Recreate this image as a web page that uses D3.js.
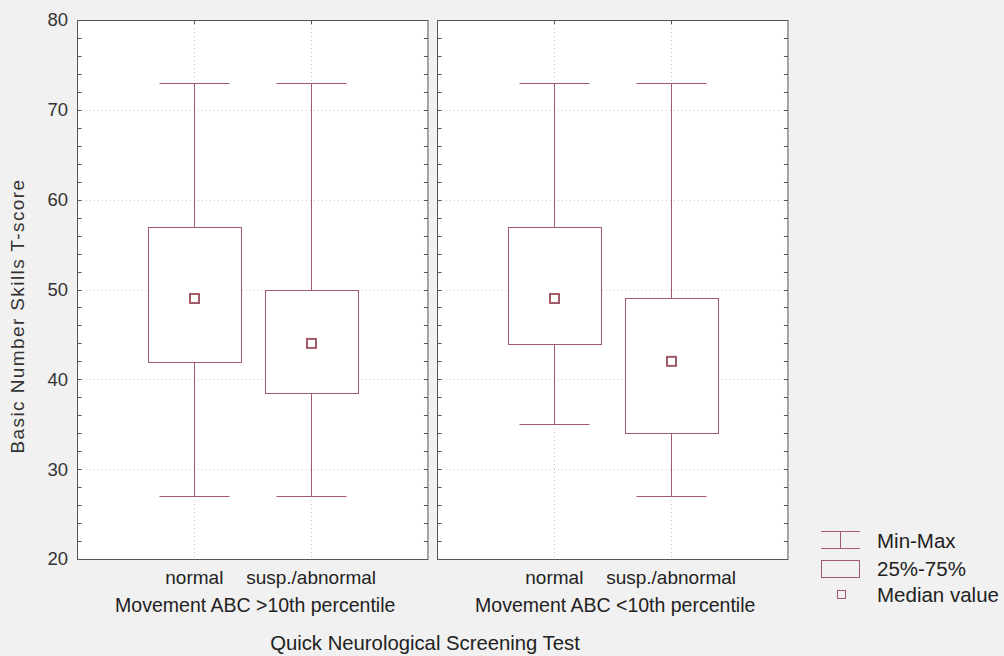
<!DOCTYPE html>
<html>
<head>
<meta charset="utf-8">
<script src="https://cdn.jsdelivr.net/npm/d3@7"></script>
<style>
    body { margin: 0; background: #f1f1f1; }
    svg { display: block; font-family: "Liberation Sans", Arial, sans-serif; }
</style>
</head>
<body>
<div id="chart"></div>
<script>
// values, one entry per panel, then per category
var groups = ["Movement ABC >10th percentile", "Movement ABC <10th percentile"];
var categories = ["normal", "susp./abnormal"];
var minValues = [[27, 27], [35, 27]];
var q1Values = [[42, 38.5], [44, 34]];
var medianValues = [[49, 44], [49, 42]];
var q3Values = [[57, 50], [57, 49]];
var maxValues = [[73, 73], [73, 73]];
var yTicks = [20, 30, 40, 50, 60, 70, 80];
var legendLabels = ["Min-Max", "25%-75%", "Median value"];

var width = 1004, height = 656;
var boxColor = "#a05a68";
var frameColor = "#555";

var svg = d3.select("#chart").append("svg")
    .attr("width", width)
    .attr("height", height);

var y = d3.scaleLinear().domain([20, 80]).range([559, 20]);

// panel positions
var panelX = d3.scaleBand()
    .domain(groups)
    .range([77, 787])
    .paddingInner(0.0254);

var x = d3.scalePoint()
    .domain(categories)
    .range([0, panelX.bandwidth()])
    .padding(1);

var boxWidth = 93, capWidth = 70;

groups.forEach(function(g, gi) {
    var panel = svg.append("g")
        .attr("transform", "translate(" + Math.round(panelX(g)) + ",0)");
    var pw = panelX.bandwidth();

    panel.append("rect")
        .attr("x", 0.5).attr("y", y(80) + 0.5)
        .attr("width", pw).attr("height", y(20) - y(80))
        .attr("fill", "#fff");

    // dotted grid
    panel.selectAll(".hgrid")
        .data(yTicks.slice(1, -1))
        .enter().append("line")
        .attr("x1", 1).attr("x2", pw)
        .attr("y1", function(d) { return Math.round(y(d)) + 0.5; })
        .attr("y2", function(d) { return Math.round(y(d)) + 0.5; })
        .attr("stroke", "#c8c8c8")
        .attr("stroke-dasharray", "1,3");
    panel.selectAll(".vgrid")
        .data(categories)
        .enter().append("line")
        .attr("x1", function(d) { return Math.round(x(d)) + 0.5; })
        .attr("x2", function(d) { return Math.round(x(d)) + 0.5; })
        .attr("y1", y(80)).attr("y2", y(20))
        .attr("stroke", "#c8c8c8")
        .attr("stroke-dasharray", "1,3");

    // minor ticks on both sides, every 2 units
    var minor = d3.range(22, 80, 2);
    [0, pw].forEach(function(side, si) {
        panel.selectAll(".mt" + si)
            .data(minor)
            .enter().append("line")
            .attr("x1", side + 0.5)
            .attr("x2", side + 0.5 + (si === 0 ? 4 : -4))
            .attr("y1", function(d) { return Math.round(y(d)) + 0.5; })
            .attr("y2", function(d) { return Math.round(y(d)) + 0.5; })
            .attr("stroke", frameColor);
    });
    panel.selectAll(".tt")
        .data(categories)
        .enter().append("line")
        .attr("x1", function(d) { return Math.round(x(d)) + 0.5; })
        .attr("x2", function(d) { return Math.round(x(d)) + 0.5; })
        .attr("y1", y(80)).attr("y2", y(80) + 4)
        .attr("stroke", frameColor);

    // boxes
    categories.forEach(function(c, ci) {
        var cx = Math.round(x(c)) + 0.5;
        var b = panel.append("g").attr("stroke", boxColor).attr("fill", "none");
        b.append("line")
            .attr("x1", cx).attr("x2", cx)
            .attr("y1", Math.round(y(maxValues[gi][ci])) + 0.5)
            .attr("y2", Math.round(y(minValues[gi][ci])) + 0.5);
        [minValues[gi][ci], maxValues[gi][ci]].forEach(function(v) {
            b.append("line")
                .attr("x1", cx - capWidth / 2).attr("x2", cx + capWidth / 2)
                .attr("y1", Math.round(y(v)) + 0.5)
                .attr("y2", Math.round(y(v)) + 0.5);
        });
        b.append("rect")
            .attr("x", Math.round(cx - boxWidth / 2) + 0.5)
            .attr("y", Math.round(y(q3Values[gi][ci])) + 0.5)
            .attr("width", boxWidth)
            .attr("height", Math.round(y(q1Values[gi][ci]) - y(q3Values[gi][ci])))
            .attr("fill", "#fff");
        b.append("rect")
            .attr("x", cx - 4.5)
            .attr("y", y(medianValues[gi][ci]) - 4.5)
            .attr("width", 9).attr("height", 9)
            .attr("stroke-width", 2)
            .attr("fill", "#fff");
    });

    // frame
    panel.append("rect")
        .attr("x", 0.5).attr("y", y(80) + 0.5)
        .attr("width", pw).attr("height", y(20) - y(80))
        .attr("fill", "none")
        .attr("stroke", frameColor);

    var xAxis = d3.axisBottom(x).tickSize(0).tickPadding(12);
    var ax = panel.append("g")
        .attr("transform", "translate(0," + y(20) + ")")
        .call(xAxis);
    ax.select(".domain").remove();
    ax.selectAll("text")
        .attr("font-size", 19)
        .attr("font-family", "Liberation Sans, Arial, sans-serif")
        .attr("fill", "#222");

    panel.append("text")
        .attr("x", pw / 2 + 3).attr("y", 612)
        .attr("text-anchor", "middle")
        .attr("font-size", 19.5)
        .attr("fill", "#222")
        .text(g);
});

// y axis labels
var yAxis = d3.axisLeft(y).tickValues(yTicks).tickSize(0).tickPadding(9);
var yg = svg.append("g")
    .attr("transform", "translate(77,0)")
    .call(yAxis);
yg.select(".domain").remove();
yg.selectAll("text")
    .attr("font-size", 18.5)
    .attr("font-family", "Liberation Sans, Arial, sans-serif")
    .attr("fill", "#333");

svg.append("text")
    .attr("transform", "translate(24,316) rotate(-90)")
    .attr("text-anchor", "middle")
    .attr("font-size", 19)
    .attr("letter-spacing", 1.4)
    .attr("fill", "#333")
    .text("Basic Number Skills T-score");

svg.append("text")
    .attr("x", 425).attr("y", 650)
    .attr("text-anchor", "middle")
    .attr("font-size", 20.3)
    .attr("fill", "#222")
    .text("Quick Neurological Screening Test");

// legend
var legend = svg.append("g").attr("transform", "translate(821,0)");
var rowY = [541, 569, 595];
var lg = legend.append("g").attr("stroke", boxColor).attr("fill", "none");
lg.append("line").attr("x1", 0).attr("x2", 39).attr("y1", 531.5).attr("y2", 531.5);
lg.append("line").attr("x1", 0).attr("x2", 39).attr("y1", 548.5).attr("y2", 548.5);
lg.append("line").attr("x1", 19.5).attr("x2", 19.5).attr("y1", 531.5).attr("y2", 548.5);
lg.append("rect").attr("x", 0.5).attr("y", 560.5).attr("width", 38).attr("height", 17);
lg.append("rect").attr("x", 16.5).attr("y", 590.5).attr("width", 8).attr("height", 8);

legend.selectAll(".lt")
    .data(legendLabels)
    .enter().append("text")
    .attr("x", 56)
    .attr("y", function(d, i) { return rowY[i]; })
    .attr("dy", "0.35em")
    .attr("font-size", 20.5)
    .attr("fill", "#222")
    .text(function(d) { return d; });
</script>
</body>
</html>
